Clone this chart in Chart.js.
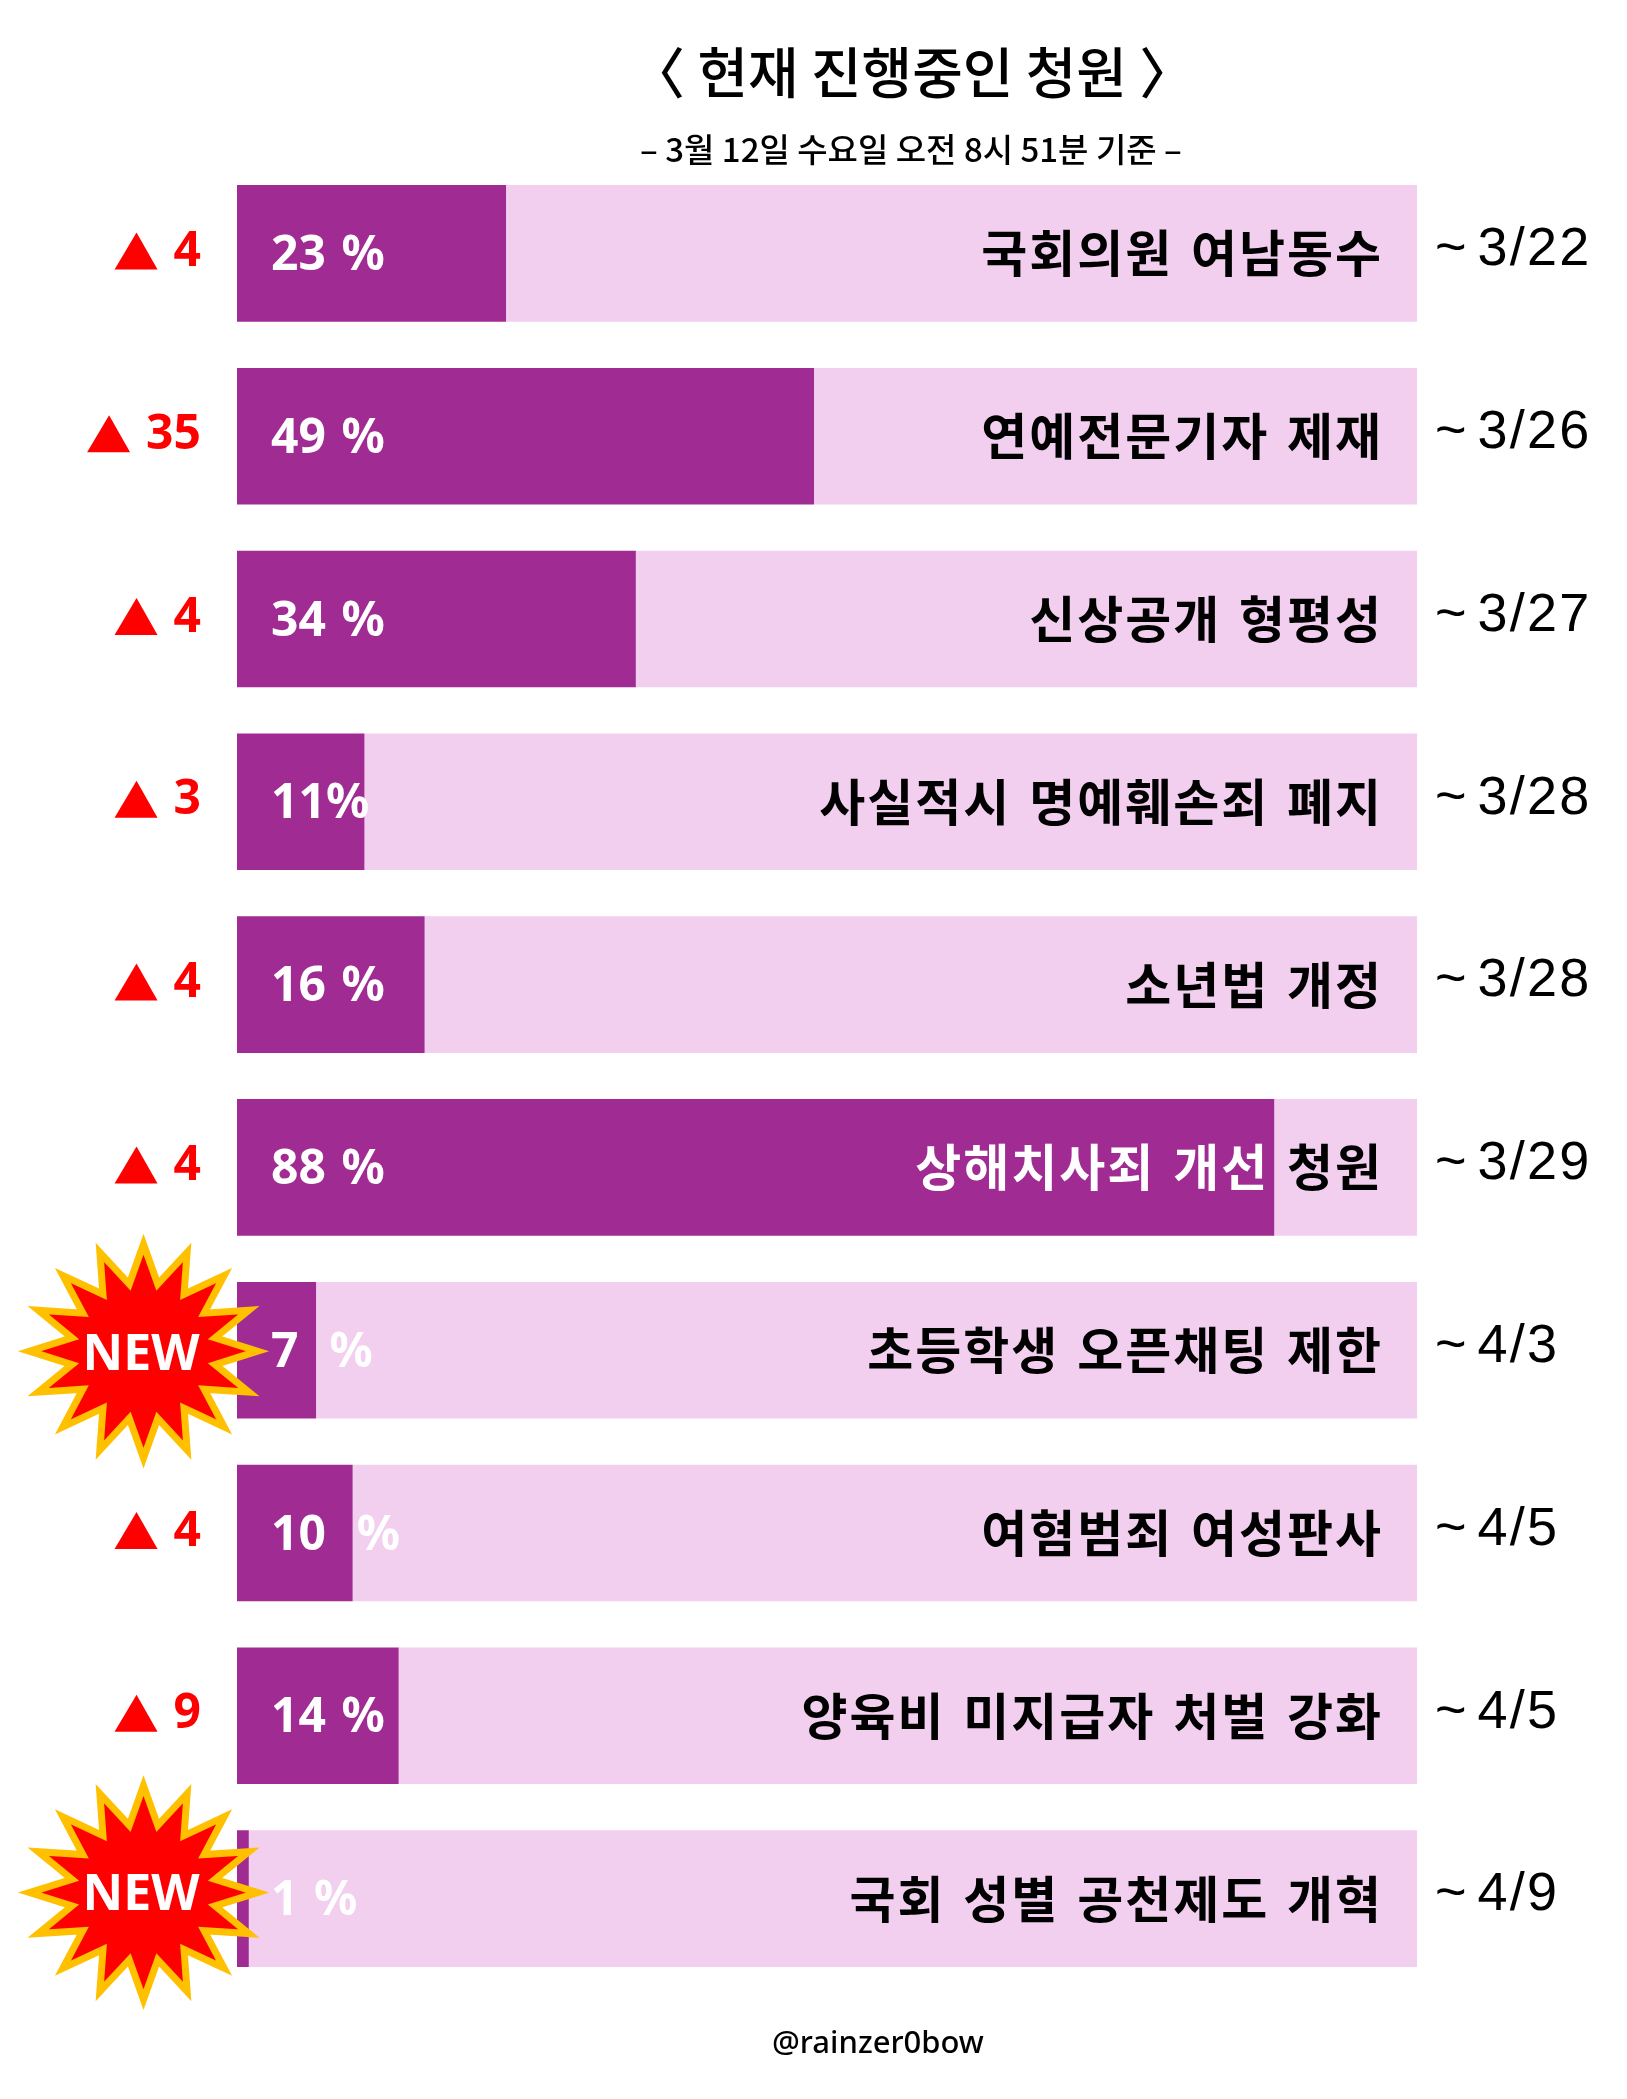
<!DOCTYPE html>
<html lang="ko">
<head>
<meta charset="utf-8">
<title>현재 진행중인 청원</title>
<script src="https://cdn.jsdelivr.net/npm/chart.js@4/dist/chart.umd.min.js"></script>
<style>
  html, body { margin: 0; background: #fff; }
  canvas { display: block; }
</style>
</head>
<body>
<canvas id="petitionChart" width="1627" height="2099"></canvas>
<script>
const titleText = '〈 현재 진행중인 청원 〉';
const subtitleText = '– 3월 12일 수요일 오전 8시 51분 기준 –';
const creditText = '@rainzer0bow';

const petitions = ['국회의원 여남동수', '연예전문기자 제재', '신상공개 형평성', '사실적시 명예훼손죄 폐지', '소년법 개정',
  '상해치사죄 개선 청원', '초등학생 오픈채팅 제한', '여혐범죄 여성판사', '양육비 미지급자 처벌 강화', '국회 성별 공천제도 개혁'];
const progress = [22.8, 48.9, 33.8, 10.8, 15.9, 87.9, 6.7, 9.8, 13.7, 1];
const progressLabels = ['23 %', '49 %', '34 %', '11%', '16 %', '88 %', '7  %', '10  %', '14 %', '1 %'];
const changes = ['4', '35', '4', '3', '4', '4', 'NEW', '4', '9', 'NEW'];
const deadlines = ['~ 3/22', '~ 3/26', '~ 3/27', '~ 3/28', '~ 3/28', '~ 3/29', '~ 4/3', '~ 4/5', '~ 4/5', '~ 4/9'];

const remaining = progress.map(p => 100 - p);

const DARK = '#A02B93';
const LIGHT = '#F2CEEF';
const KO = '"Noto Sans CJK KR"';

function text(ctx, str, x, y, font, color, align, spacing, wordGap) {
  ctx.font = font;
  ctx.fillStyle = color;
  ctx.textAlign = align || 'left';
  ctx.textBaseline = 'middle';
  ctx.letterSpacing = spacing || '0px';
  ctx.wordSpacing = wordGap || '0px';
  ctx.fillText(str, x, y);
  ctx.letterSpacing = '0px';
  ctx.wordSpacing = '0px';
}

function drawBurst(ctx, cx, cy) {
  const rx = 114, ry = 107, inner = 0.64;
  ctx.beginPath();
  for (let i = 0; i < 32; i++) {
    const a = i * Math.PI / 16;
    const r = i % 2 === 0 ? 1 : inner;
    const px = cx + Math.cos(a) * rx * r;
    const py = cy + Math.sin(a) * ry * r;
    if (i === 0) ctx.moveTo(px, py);
    else ctx.lineTo(px, py);
  }
  ctx.closePath();
  ctx.fillStyle = '#FF0000';
  ctx.fill();
  ctx.strokeStyle = '#FFC000';
  ctx.lineWidth = 7;
  ctx.lineJoin = 'miter';
  ctx.miterLimit = 20;
  ctx.stroke();
}

const annotations = {
  id: 'annotations',
  afterDatasetsDraw(chart) {
    const ctx = chart.ctx;
    const yScale = chart.scales.y;
    const xScale = chart.scales.x;

    text(ctx, titleText, 630, 72, '500 55px ' + KO, '#000');

    petitions.forEach((name, i) => {
      const y = yScale.getPixelForValue(i);
      const right = chart.chartArea.right - 34;
      const barEnd = xScale.getPixelForValue(progress[i]);

      // label goes white where it runs over the dark part of the bar
      ctx.save();
      ctx.beginPath();
      ctx.rect(barEnd, 0, chart.width, chart.height);
      ctx.clip();
      text(ctx, name, right, y, '700 50px ' + KO, '#000', 'right', '2px', '4.5px');
      ctx.restore();
      ctx.save();
      ctx.beginPath();
      ctx.rect(0, 0, barEnd, chart.height);
      ctx.clip();
      text(ctx, name, right, y, '700 50px ' + KO, '#fff', 'right', '2px', '4.5px');
      ctx.restore();

      text(ctx, deadlines[i], 1435, y - 3, '400 54px "Liberation Sans"', '#000', 'left', '2.2px', '-8.4px');

      if (changes[i] === 'NEW') {
        const cy = i === 9 ? y - 6 : y + 1;
        drawBurst(ctx, 143.5, cy);
        text(ctx, 'NEW', 141, cy + (i === 9 ? 3 : 5), '700 50px "Noto Sans"', '#fff', 'center');
      } else {
        text(ctx, changes[i], 201, y - 1, '700 48px "Noto Sans"', '#FF0000', 'right');
        const left = 201 - ctx.measureText(changes[i]).width - 16;
        ctx.beginPath();
        ctx.moveTo(left - 21, y - 21);
        ctx.lineTo(left, y + 16);
        ctx.lineTo(left - 43, y + 16);
        ctx.closePath();
        ctx.fillStyle = '#FF0000';
        ctx.fill();
      }

      text(ctx, progressLabels[i], 271, y + 3, '700 48px "Noto Sans"', '#fff', 'left', '0px', '3px');
    });

    text(ctx, subtitleText, 640, 149, '500 33px ' + KO, '#000');
    text(ctx, creditText, 772, 2044, '500 31px "Noto Sans"', '#000');
  }
};

new Chart(document.getElementById('petitionChart').getContext('2d'), {
  type: 'bar',
  data: {
    labels: petitions,
    datasets: [
      { data: progress, backgroundColor: DARK, barPercentage: 0.747, categoryPercentage: 1 },
      { data: remaining, backgroundColor: LIGHT, barPercentage: 0.747, categoryPercentage: 1 }
    ]
  },
  options: {
    indexAxis: 'y',
    responsive: false,
    animation: false,
    layout: { padding: { left: 237, right: 210, top: 162, bottom: 109 } },
    scales: {
      x: { display: false, stacked: true, min: 0, max: 100 },
      y: { display: false, stacked: true }
    },
    plugins: { legend: { display: false }, tooltip: { enabled: false } }
  },
  plugins: [annotations]
});
</script>
</body>
</html>
